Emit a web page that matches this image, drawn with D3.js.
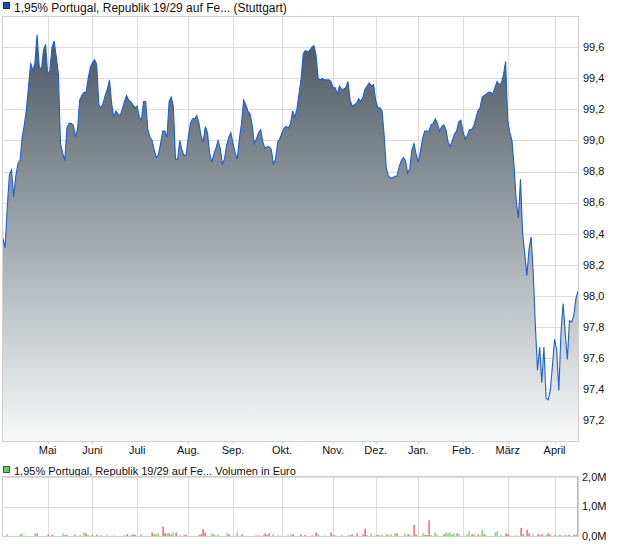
<!DOCTYPE html>
<html><head><meta charset="utf-8">
<script src="https://cdn.jsdelivr.net/npm/d3@7"></script>
<style>html,body{margin:0;padding:0;background:#fff;}svg{display:block;}</style>
</head><body><div id="chart"></div>
<script>
// ---- data ----
const prices = [
98.37,98.31,98.57,98.78,98.81,98.64,98.77,98.85,98.87,99.02,
99.10,99.20,99.35,99.50,99.45,99.50,99.68,99.48,99.45,99.58,
99.62,99.42,99.45,99.60,99.64,99.54,99.43,98.98,98.92,98.87,
99.08,99.11,99.11,99.10,99.03,99.07,99.26,99.29,99.31,99.31,
99.40,99.47,99.50,99.52,99.49,99.23,99.21,99.24,99.29,99.33,
99.39,99.24,99.15,99.19,99.17,99.16,99.20,99.25,99.29,99.26,
99.25,99.23,99.21,99.22,99.15,99.13,99.25,99.25,99.07,99.02,
99.00,98.94,98.89,98.91,98.98,99.06,99.06,99.02,99.25,99.28,
99.22,98.88,98.88,99.00,98.94,98.90,98.91,99.02,99.11,99.14,
99.14,99.16,99.11,99.03,98.99,99.09,99.05,98.92,98.86,98.91,
98.95,99.00,98.95,98.85,98.88,98.97,99.02,99.05,98.98,98.92,
98.88,99.01,99.11,99.26,99.23,99.19,99.17,99.10,98.98,99.01,
99.05,99.07,98.99,98.95,98.96,98.96,98.94,98.85,98.88,98.99,
99.01,99.05,99.08,99.09,99.08,99.11,99.19,99.15,99.20,99.30,
99.40,99.56,99.58,99.57,99.58,99.60,99.61,99.55,99.40,99.39,
99.40,99.39,99.39,99.39,99.38,99.34,99.34,99.30,99.35,99.33,
99.33,99.34,99.38,99.26,99.22,99.23,99.24,99.27,99.25,99.28,
99.33,99.35,99.37,99.35,99.36,99.26,99.21,99.21,99.19,99.03,
98.82,98.77,98.76,98.76,98.77,98.77,98.83,98.87,98.89,98.87,
98.79,98.82,98.94,98.98,98.91,98.86,98.93,99.01,99.06,99.06,
99.06,99.10,99.11,99.14,99.11,99.06,99.09,99.10,99.07,98.99,
98.96,99.00,99.04,99.06,99.12,99.13,99.06,99.01,99.03,99.07,
99.07,99.09,99.14,99.19,99.21,99.28,99.29,99.30,99.31,99.31,
99.30,99.34,99.38,99.36,99.37,99.42,99.51,99.13,99.05,99.00,
98.83,98.61,98.50,98.75,98.40,98.27,98.13,98.30,98.38,98.14,
97.80,97.52,97.67,97.44,97.67,97.34,97.33,97.39,97.55,97.72,
97.65,97.39,97.76,97.95,97.76,97.59,97.84,97.83,97.87,97.98,
98.03
];
const volumeDay = [2,8,9,15,16,21,23,24,28,29,30,34,36,38,39,40,42,44,46,49,52,57,58,60,61,62,65,70,71,72,73,75,76,77,78,79,80,81,83,85,86,92,93,94,95,98,99,101,105,106,110,112,119,120,122,123,124,125,127,129,134,135,136,140,142,145,147,148,151,154,155,156,159,162,163,164,166,169,170,171,173,175,176,177,178,180,181,182,184,185,189,190,191,193,194,197,198,199,200,201,203,204,207,208,209,210,211,212,213,214,218,219,220,221,223,224,225,226,227,231,232,234,236,237,241,243,244,246,247,249,251,252,253,255,256,257,259,261,262,264,265,266,268,269,270];
const volumeMio = [0.06,0.06,0.09,0.09,0.09,0.045,0.045,0.02,0.09,0.035,0.06,0.045,0.02,0.12,0.09,0.035,0.045,0.045,0.02,0.02,0.02,0.035,0.06,0.035,0.06,0.035,0.06,0.12,0.045,0.07,0.09,0.32,0.10,0.08,0.09,0.045,0.12,0.12,0.02,0.045,0.045,0.045,0.06,0.23,0.12,0.09,0.045,0.045,0.09,0.06,0.12,0.06,0.02,0.02,0.035,0.09,0.035,0.09,0.06,0.02,0.02,0.06,0.06,0.06,0.035,0.02,0.12,0.06,0.02,0.12,0.045,0.02,0.02,0.02,0.035,0.06,0.09,0.06,0.25,0.035,0.09,0.035,0.035,0.02,0.045,0.06,0.035,0.06,0.09,0.09,0.09,0.06,0.035,0.38,0.045,0.09,0.045,0.035,0.53,0.035,0.12,0.045,0.06,0.12,0.09,0.12,0.045,0.09,0.09,0.06,0.045,0.16,0.06,0.06,0.045,0.02,0.21,0.06,0.02,0.12,0.16,0.02,0.09,0.06,0.02,0.28,0.06,0.21,0.09,0.045,0.06,0.035,0.06,0.035,0.09,0.045,0.035,0.045,0.035,0.045,0.02,0.045,0.035,0.045,2.0];
const volumeUp = "ggggrrrggrgrrgrggrrrggrgrrgrrggrrgrrgrrgrgrrrgrggrgrrrgrrrgrrgrrrrrggrgrrrgrrrrgggrgggrggrgrgrrgrrrgggrgggrgrgggrgrggrgggrrrgrrrrgrgrgrrrgggg";
const monthLabels = ["Mai","Juni","Juli","Aug.","Sep.","Okt.","Nov.","Dez.","Jan.","Feb.","März","April"];
const monthDay = [21,42,63,87,108,131,155,175,195,216,237,259];
const priceTicks = [97.2,97.4,97.6,97.8,98.0,98.2,98.4,98.6,98.8,99.0,99.2,99.4,99.6];
const volumeTicks = [0,1,2];
const titleMain = "1,95% Portugal, Republik 19/29 auf Fe... (Stuttgart)";
const titleVol = "1,95% Portugal, Republik 19/29 auf Fe... Volumen in Euro";

// ---- layout ----
const W = 620, H = 546;
const L = 3, R = 578, T = 17, B = 441;
const VT = 477, VB = 536;
const fmt = d3.formatLocale({decimal:",", thousands:".", grouping:[3], currency:["","€"]}).format(".1f");

const svg = d3.select("#chart").append("svg").attr("width", W).attr("height", H)
  .style("font-family", "'Liberation Sans', Arial, sans-serif");

const x = d3.scaleLinear().domain([0, prices.length - 1]).range([L, R]);
const y = d3.scaleLinear().domain([97.2, 99.6]).range([420, 47.3]);
const yv = d3.scaleLinear().domain([0, 2]).range([VB, VT]);

const defs = svg.append("defs");
const grad = defs.append("linearGradient").attr("id", "fillg")
  .attr("gradientUnits", "userSpaceOnUse").attr("x1", 0).attr("y1", T).attr("x2", 0).attr("y2", B);
grad.append("stop").attr("offset", 0).attr("stop-color", "#42515c");
grad.append("stop").attr("offset", 1).attr("stop-color", "#f8f9f9");
defs.append("clipPath").attr("id", "clipMain").append("rect")
  .attr("x", L).attr("y", T).attr("width", R - L).attr("height", B - T);

// grid main
const gMain = svg.append("g");
gMain.selectAll("line.h").data(priceTicks).join("line")
  .attr("x1", L).attr("x2", R).attr("y1", d => Math.round(y(d)) + 0.5).attr("y2", d => Math.round(y(d)) + 0.5)
  .attr("stroke", "#dcdcdc");
gMain.selectAll("line.v").data(monthDay).join("line")
  .attr("x1", d => Math.round(x(d)) + 0.5).attr("x2", d => Math.round(x(d)) + 0.5).attr("y1", T).attr("y2", B)
  .attr("stroke", "#dcdcdc");

// area + line
const area = d3.area().x((d, i) => x(i)).y0(B).y1(d => y(d));
const line = d3.line().x((d, i) => x(i)).y(d => y(d));
const gPlot = svg.append("g").attr("clip-path", "url(#clipMain)");
gPlot.append("path").datum(prices).attr("d", area).attr("fill", "url(#fillg)");
gPlot.append("path").datum(prices).attr("d", line).attr("fill", "none")
  .attr("stroke", "#1f5fd0").attr("stroke-width", 1.1).attr("stroke-linejoin", "miter");

// border main
svg.append("rect").attr("x", L - 0.5).attr("y", T - 0.5).attr("width", R - L + 1).attr("height", B - T + 1)
  .attr("fill", "none").attr("stroke", "#cfcfcf");

// y axis labels
svg.append("g").selectAll("text").data(priceTicks).join("text")
  .attr("x", 583).attr("y", d => y(d)).attr("dy", "0.35em")
  .attr("font-size", 11).attr("fill", "#111").text(d => fmt(d));

// x ticks + labels
svg.append("g").selectAll("line").data(monthDay).join("line")
  .attr("x1", d => Math.round(x(d)) + 0.5).attr("x2", d => Math.round(x(d)) + 0.5)
  .attr("y1", B).attr("y2", B + 3).attr("stroke", "#cfcfcf");
svg.append("g").selectAll("text").data(monthLabels).join("text")
  .attr("x", (d, i) => x(monthDay[i])).attr("y", 453.5).attr("text-anchor", "middle")
  .attr("font-size", 11).attr("fill", "#111")
  .style("font-family", "'Liberation Sans Narrow', 'Liberation Sans', Arial, sans-serif")
  .text(d => d);

// title main
svg.append("rect").attr("x", 3.5).attr("y", 2.5).attr("width", 6).attr("height", 6)
  .attr("fill", "#1c4fb8").attr("stroke", "#0d2a66");
svg.append("text").attr("x", 14).attr("y", 11.5).attr("font-size", 12).attr("fill", "#111").text(titleMain);

// volume panel
svg.append("rect").attr("x", 3.5).attr("y", 466.5).attr("width", 6).attr("height", 6)
  .attr("fill", "#66cc66").attr("stroke", "#2a6a2a");
svg.append("text").attr("x", 14).attr("y", 474.5).attr("font-size", 11).attr("fill", "#111").text(titleVol);

const gVol = svg.append("g");
gVol.selectAll("line.h").data(volumeTicks).join("line")
  .attr("x1", L).attr("x2", R).attr("y1", d => Math.round(yv(d)) + 0.5).attr("y2", d => Math.round(yv(d)) + 0.5)
  .attr("stroke", "#dcdcdc");
gVol.selectAll("line.v").data(monthDay).join("line")
  .attr("x1", d => Math.round(x(d)) + 0.5).attr("x2", d => Math.round(x(d)) + 0.5).attr("y1", VT).attr("y2", VB)
  .attr("stroke", "#dcdcdc");
svg.append("rect").attr("x", L - 0.5).attr("y", VT - 0.5).attr("width", R - L + 1).attr("height", VB - VT + 1)
  .attr("fill", "none").attr("stroke", "#cfcfcf");
gVol.selectAll("rect.bar").data(volumeDay).join("rect")
  .attr("x", d => Math.round(x(d)) - 0.5).attr("width", 1.2)
  .attr("y", (d, i) => yv(volumeMio[i])).attr("height", (d, i) => VB - yv(volumeMio[i]))
  .attr("fill", (d, i) => volumeUp[i] === "g" ? "#55d455" : "#dd4d4d");
svg.append("g").selectAll("text").data(volumeTicks).join("text")
  .attr("x", 582).attr("y", d => yv(d)).attr("dy", "0.35em")
  .attr("font-size", 11).attr("fill", "#111").text(d => fmt(d) + "M");
</script></body></html>
